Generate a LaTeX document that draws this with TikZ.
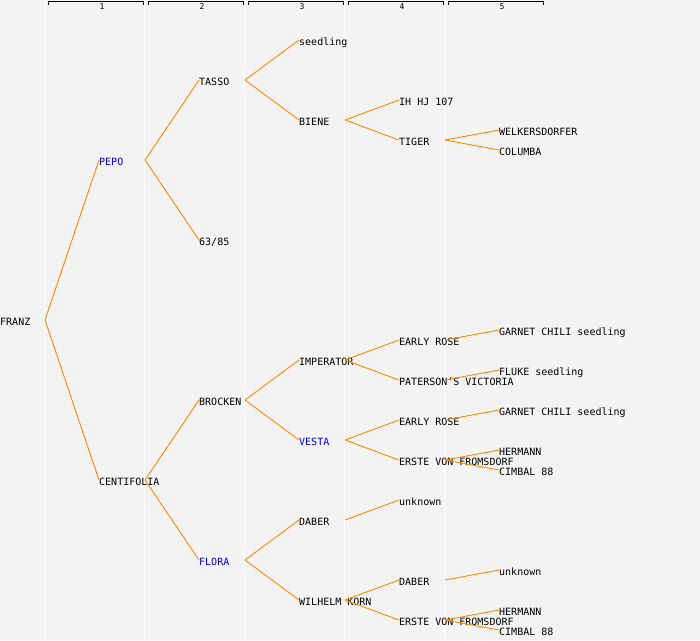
\documentclass[tikz,border=0pt]{standalone}
\usepackage{fontspec}
\setmainfont{DejaVu Sans Mono}
\usepackage{tikz}
\definecolor{bgGray}{RGB}{243,243,243}
\definecolor{branchOrange}{RGB}{255,136,0}
\tikzset{
  plant/.style={anchor=west, inner sep=0pt, text height=11pt, text depth=0pt, font=\fontsize{10}{12}\selectfont},
  parent/.style={plant, text=blue},
  branch/.style={draw=branchOrange, line width=0.9pt},
  ruler/.style={draw=black, line width=0.8pt}
}
\newcommand{\link}[2]{\foreach \c in {#2} {\draw[branch] ([xshift=46pt]#1.west) -- (\c.west);}}

\begin{document}
\begin{tikzpicture}[x=1pt, y=-1pt]
		\fill[bgGray] (0,0) rectangle (700,640);
		\useasboundingbox (0,0) rectangle (700,640);
		% Column rulers
		\foreach \k in {1,...,5} {
			\draw[white, line width=1.2pt] (100*\k-55.5,0) -- (100*\k-55.5,640);
			\draw[ruler] (100*\k-52,4.5) -- (100*\k-52,1.5) -- (100*\k+43,1.5) -- (100*\k+43,4.5);
			\node[inner sep=0pt, font=\fontsize{8}{9}\selectfont] (col\k) at (100*\k+2,7) {\k};
		}
		
		% Define nodes
		\node[plant] (franz) at (0,320) {FRANZ};
		\node[parent] (pepo) at (99,160) {PEPO};
		\node[plant] (centifolia) at (99,480) {CENTIFOLIA};
		\node[plant] (tasso) at (199,80) {TASSO};
		\node[plant] (p6385) at (199,240) {63/85};
		\node[plant] (brocken) at (199,400) {BROCKEN};
		\node[parent] (flora) at (199,560) {FLORA};
		\node[plant] (seedling) at (299,40) {seedling};
		\node[plant] (biene) at (299,120) {BIENE};
		\node[plant] (imperator) at (299,360) {IMPERATOR};
		\node[parent] (vesta) at (299,440) {VESTA};
		\node[plant] (daberA) at (299,520) {DABER};
		\node[plant] (wilhelm) at (299,600) {WILHELM KORN};
		\node[plant] (ihhj) at (399,100) {IH HJ 107};
		\node[plant] (tiger) at (399,140) {TIGER};
		\node[plant] (roseA) at (399,340) {EARLY ROSE};
		\node[plant] (paterson) at (399,380) {PATERSON’S VICTORIA};
		\node[plant] (roseB) at (399,420) {EARLY ROSE};
		\node[plant] (ersteA) at (399,460) {ERSTE VON FROMSDORF};
		\node[plant] (unknownA) at (399,500) {unknown};
		\node[plant] (daberB) at (399,580) {DABER};
		\node[plant] (ersteB) at (399,620) {ERSTE VON FROMSDORF};
		\node[plant] (welk) at (499,130) {WELKERSDORFER};
		\node[plant] (columba) at (499,150) {COLUMBA};
		\node[plant] (garnetA) at (499,330) {GARNET CHILI seedling};
		\node[plant] (fluke) at (499,370) {FLUKE seedling};
		\node[plant] (garnetB) at (499,410) {GARNET CHILI seedling};
		\node[plant] (hermannA) at (499,450) {HERMANN};
		\node[plant] (cimbalA) at (499,470) {CIMBAL 88};
		\node[plant] (unknownB) at (499,570) {unknown};
		\node[plant] (hermannB) at (499,610) {HERMANN};
		\node[plant] (cimbalB) at (499,630) {CIMBAL 88};
		
		% Connect the nodes
		\draw[branch] ([xshift=45pt]franz.west) -- (pepo.west);
		\draw[branch] ([xshift=45pt]franz.west) -- (centifolia.west);
		\link{pepo}{tasso,p6385}
		\link{centifolia}{brocken,flora}
		\link{tasso}{seedling,biene}
		\link{brocken}{imperator,vesta}
		\link{flora}{daberA,wilhelm}
		\link{biene}{ihhj,tiger}
		\link{imperator}{roseA,paterson}
		\link{vesta}{roseB,ersteA}
		\link{daberA}{unknownA}
		\link{wilhelm}{daberB,ersteB}
		\link{tiger}{welk,columba}
		\link{roseA}{garnetA}
		\link{paterson}{fluke}
		\link{roseB}{garnetB}
		\link{ersteA}{hermannA,cimbalA}
		\link{daberB}{unknownB}
		\link{ersteB}{hermannB,cimbalB}
	\end{tikzpicture}
\end{document}
